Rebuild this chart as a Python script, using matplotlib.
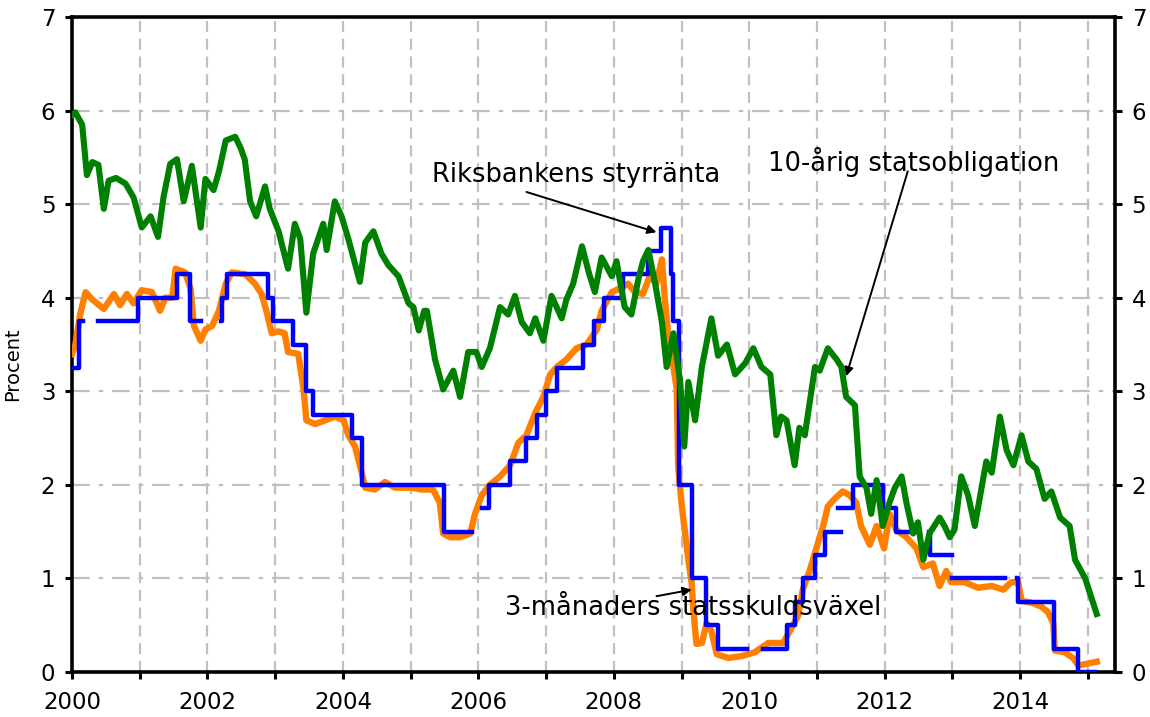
import numpy as np
import matplotlib
matplotlib.use("Agg")
import matplotlib.pyplot as plt

# ---- data (decimal years, percent) ----
green_t = [2000.00, 2000.05, 2000.15, 2000.22, 2000.30, 2000.39, 2000.47, 2000.54, 2000.65, 2000.79,
           2000.91, 2001.03, 2001.16, 2001.27, 2001.35, 2001.45, 2001.55, 2001.65, 2001.77, 2001.90,
           2001.97, 2002.09, 2002.17, 2002.27, 2002.41, 2002.49, 2002.55, 2002.63, 2002.72, 2002.85,
           2002.92, 2003.05, 2003.19, 2003.29, 2003.37, 2003.46, 2003.56, 2003.71, 2003.76, 2003.88,
           2003.98, 2004.08, 2004.25, 2004.33, 2004.45, 2004.57, 2004.67, 2004.82, 2004.97, 2005.04,
           2005.12, 2005.20, 2005.24, 2005.36, 2005.48, 2005.63, 2005.73, 2005.85, 2005.97, 2006.05,
           2006.17, 2006.32, 2006.44, 2006.54, 2006.64, 2006.76, 2006.84, 2006.96, 2007.08, 2007.23,
           2007.30, 2007.40, 2007.53, 2007.63, 2007.72, 2007.82, 2007.97, 2008.04, 2008.16, 2008.26,
           2008.36, 2008.43, 2008.51, 2008.61, 2008.71, 2008.78, 2008.88, 2008.98, 2009.04, 2009.10,
           2009.20, 2009.30, 2009.44, 2009.54, 2009.67, 2009.79, 2009.94, 2010.06, 2010.18, 2010.31,
           2010.40, 2010.47, 2010.55, 2010.67, 2010.74, 2010.82, 2010.97, 2011.04, 2011.16, 2011.29,
           2011.36, 2011.43, 2011.56, 2011.63, 2011.73, 2011.80, 2011.88, 2011.97, 2012.07, 2012.15,
           2012.25, 2012.32, 2012.42, 2012.49, 2012.57, 2012.66, 2012.81, 2012.89, 2012.96, 2013.03,
           2013.13, 2013.23, 2013.33, 2013.43, 2013.50, 2013.58, 2013.70, 2013.80, 2013.90, 2014.02,
           2014.12, 2014.24, 2014.36, 2014.46, 2014.59, 2014.73, 2014.81, 2014.96, 2015.13]
green_v = [5.95, 5.98, 5.85, 5.31, 5.45, 5.42, 4.95, 5.25, 5.28, 5.22,
           5.07, 4.75, 4.87, 4.65, 5.07, 5.43, 5.48, 5.03, 5.41, 4.75,
           5.27, 5.15, 5.35, 5.68, 5.72, 5.60, 5.48, 5.03, 4.87, 5.19,
           4.95, 4.71, 4.31, 4.79, 4.63, 3.84, 4.47, 4.79, 4.51, 5.03,
           4.87, 4.63, 4.17, 4.59, 4.71, 4.47, 4.35, 4.23, 3.94, 3.90,
           3.65, 3.86, 3.86, 3.34, 3.02, 3.22, 2.94, 3.42, 3.42, 3.26,
           3.46, 3.90, 3.82, 4.02, 3.74, 3.62, 3.78, 3.54, 4.02, 3.78,
           3.98, 4.15, 4.55, 4.27, 4.06, 4.43, 4.23, 4.39, 3.90, 3.82,
           4.19, 4.39, 4.51, 4.15, 3.74, 3.26, 3.62, 3.10, 2.41, 3.10,
           2.69, 3.26, 3.78, 3.38, 3.50, 3.18, 3.30, 3.46, 3.26, 3.18,
           2.53, 2.73, 2.69, 2.21, 2.61, 2.53, 3.26, 3.22, 3.46, 3.34,
           3.26, 2.94, 2.85, 2.09, 1.97, 1.69, 2.05, 1.56, 1.81, 1.97,
           2.09, 1.81, 1.48, 1.60, 1.20, 1.48, 1.65, 1.55, 1.44, 1.52,
           2.09, 1.89, 1.56, 1.97, 2.25, 2.13, 2.73, 2.37, 2.21, 2.53,
           2.25, 2.17, 1.85, 1.93, 1.65, 1.56, 1.20, 1.00, 0.62]

orange_t = [2000.00, 2000.05, 2000.12, 2000.20, 2000.30, 2000.47, 2000.62, 2000.71, 2000.81, 2000.91,
            2001.03, 2001.18, 2001.30, 2001.38, 2001.48, 2001.53, 2001.67, 2001.75, 2001.80, 2001.90,
            2001.97, 2002.07, 2002.17, 2002.27, 2002.36, 2002.56, 2002.70, 2002.80, 2002.87, 2002.95,
            2003.05, 2003.14, 2003.19, 2003.34, 2003.42, 2003.46, 2003.59, 2003.74, 2003.88, 2004.01,
            2004.08, 2004.18, 2004.25, 2004.33, 2004.47, 2004.62, 2004.77, 2005.02, 2005.16, 2005.33,
            2005.43, 2005.48, 2005.58, 2005.73, 2005.88, 2005.95, 2006.05, 2006.17, 2006.32, 2006.47,
            2006.59, 2006.71, 2006.84, 2006.96, 2007.06, 2007.16, 2007.30, 2007.45, 2007.60, 2007.75,
            2007.82, 2007.97, 2008.09, 2008.21, 2008.31, 2008.43, 2008.53, 2008.63, 2008.71, 2008.75,
            2008.80, 2008.88, 2008.93, 2008.95, 2009.00, 2009.05, 2009.10, 2009.15, 2009.17, 2009.22,
            2009.30, 2009.37, 2009.44, 2009.52, 2009.69, 2009.89, 2010.08, 2010.28, 2010.50, 2010.60,
            2010.72, 2010.79, 2010.89, 2010.99, 2011.09, 2011.16, 2011.26, 2011.38, 2011.48, 2011.58,
            2011.65, 2011.78, 2011.88, 2011.99, 2012.07, 2012.17, 2012.32, 2012.47, 2012.57, 2012.71,
            2012.81, 2012.91, 2012.98, 2013.18, 2013.38, 2013.58, 2013.75, 2013.87, 2013.97, 2014.02,
            2014.17, 2014.31, 2014.41, 2014.49, 2014.51, 2014.66, 2014.78, 2014.86, 2015.00, 2015.13]
orange_v = [3.40, 3.50, 3.82, 4.06, 3.98, 3.88, 4.04, 3.92, 4.04, 3.94,
            4.08, 4.06, 3.86, 4.00, 4.00, 4.31, 4.27, 4.10, 3.70, 3.54,
            3.66, 3.70, 3.86, 4.15, 4.27, 4.25, 4.15, 4.04, 3.86, 3.62,
            3.64, 3.62, 3.42, 3.40, 3.02, 2.69, 2.65, 2.69, 2.73, 2.69,
            2.53, 2.41, 2.21, 1.97, 1.95, 2.03, 1.97, 1.97, 1.95, 1.95,
            1.81, 1.48, 1.44, 1.44, 1.48, 1.69, 1.89, 2.00, 2.09, 2.21,
            2.45, 2.53, 2.77, 2.94, 3.18, 3.26, 3.34, 3.46, 3.50, 3.66,
            3.86, 4.06, 4.10, 4.15, 4.06, 4.04, 4.23, 4.15, 4.41, 4.02,
            3.62, 3.26, 3.02, 2.20, 1.80, 1.50, 1.20, 0.95, 0.70, 0.30,
            0.31, 0.52, 0.44, 0.19, 0.15, 0.17, 0.21, 0.31, 0.31, 0.44,
            0.60, 0.88, 1.08, 1.32, 1.56, 1.77, 1.85, 1.93, 1.89, 1.81,
            1.56, 1.36, 1.56, 1.32, 1.69, 1.52, 1.44, 1.32, 1.12, 1.16,
            0.92, 1.08, 0.96, 0.96, 0.90, 0.92, 0.88, 0.96, 0.96, 0.76,
            0.74, 0.70, 0.64, 0.52, 0.23, 0.21, 0.15, 0.07, 0.09, 0.11]

# repo rate: change dates and new levels (nan = gap in the published series)
repo_t = [2000.00, 2000.10, 2000.16, 2000.38, 2000.98, 2001.55, 2001.74, 2001.90, 2002.20, 2002.21,
          2002.29, 2002.90, 2002.97, 2003.27, 2003.46, 2003.56, 2004.13, 2004.28, 2005.50, 2005.90,
          2006.06, 2006.16, 2006.47, 2006.71, 2006.86, 2007.00, 2007.16, 2007.55, 2007.70, 2007.86,
          2008.14, 2008.50, 2008.70, 2008.84, 2008.87, 2008.96, 2009.16, 2009.36, 2009.54, 2009.96,
          2010.20, 2010.55, 2010.67, 2010.80, 2010.97, 2011.12, 2011.36, 2011.31, 2011.53, 2011.97,
          2012.17, 2012.35, 2012.66, 2012.67, 2013.00, 2013.00, 2013.77, 2013.95, 2013.97, 2014.50,
          2014.85, 2015.10]
repo_v = [3.25, 3.75, np.nan, 3.75, 4.00, 4.25, 3.75, np.nan, 3.75, 4.00,
          4.25, 4.00, 3.75, 3.50, 3.00, 2.75, 2.50, 2.00, 1.50, np.nan,
          1.75, 2.00, 2.25, 2.50, 2.75, 3.00, 3.25, 3.50, 3.75, 4.00,
          4.25, 4.50, 4.75, 4.25, 3.75, 2.00, 1.00, 0.50, 0.25, np.nan,
          0.25, 0.50, 0.75, 1.00, 1.25, 1.50, np.nan, 1.75, 2.00, 1.75,
          1.50, np.nan, 1.50, 1.25, np.nan, 1.00, np.nan, 1.00, 0.75, 0.25,
          0.00, 0.00]

y_ticks = [0, 1, 2, 3, 4, 5, 6, 7]
x_ticks = list(range(2000, 2016))
x_labels = [str(y) if y % 2 == 0 else "" for y in x_ticks]

# ---- figure ----
plt.rcParams['font.family'] = ['DejaVu Sans']
fig = plt.figure(figsize=(11.5, 7.17), dpi=100)
ax = fig.add_axes([72 / 1150, 1 - 672 / 717, (1115 - 72) / 1150, (672 - 17) / 717])

ax.set_xlim(2000, 2015.4)
ax.set_ylim(0, 7)

grid_c = "#c0c0c0"
for x in x_ticks[1:]:
    ax.axvline(x, color=grid_c, lw=1.6, ls=(0, (5, 3)), zorder=1)
for y in y_ticks[1:]:
    ax.axhline(y, color=grid_c, lw=1.6, ls=(0, (8, 4, 2, 4)), zorder=1)

ax.plot(orange_t, orange_v, color="#ff8000", lw=4.6, zorder=3, solid_joinstyle="round")
ax.plot(repo_t, repo_v, color="#0000ff", lw=3.2, drawstyle="steps-post", zorder=4)
ax.plot(green_t, green_v, color="#008000", lw=4.4, zorder=5, solid_joinstyle="round")

ax.set_xticks(x_ticks)
ax.set_xticklabels(x_labels)
ax.set_yticks(y_ticks)
ax.tick_params(axis="both", direction="out", length=5, width=2.2, labelsize=16.5, color="black")
ax.tick_params(axis="x", pad=9)
ax.tick_params(axis="y", right=True, labelright=True, pad=7)
for s in ax.spines.values():
    s.set_linewidth(2.6)
ax.set_ylabel("Procent", fontsize=14)
ax.yaxis.set_label_coords(-0.048, 0.47)

akw = dict(arrowstyle="-|>", color="black", lw=1.4, mutation_scale=13, shrinkA=0, shrinkB=0)
ax.annotate("", xy=(2008.63, 4.70), xytext=(2006.71, 5.13), arrowprops=akw, zorder=6)
ax.text(2005.31, 5.31, "Riksbankens styrränta", fontsize=18.5, va="center", ha="left", zorder=6)
ax.annotate("", xy=(2011.43, 3.16), xytext=(2012.34, 5.35), arrowprops=akw, zorder=6)
ax.text(2010.27, 5.45, "10-årig statsobligation", fontsize=18.5, va="center", ha="left", zorder=6)
ax.annotate("", xy=(2009.15, 0.88), xytext=(2008.63, 0.81), arrowprops=akw, zorder=6)
ax.text(2006.40, 0.68, "3-månaders statsskuldsväxel", fontsize=18.5, va="center", ha="left", zorder=6)

fig.savefig("out.png", dpi=100)
